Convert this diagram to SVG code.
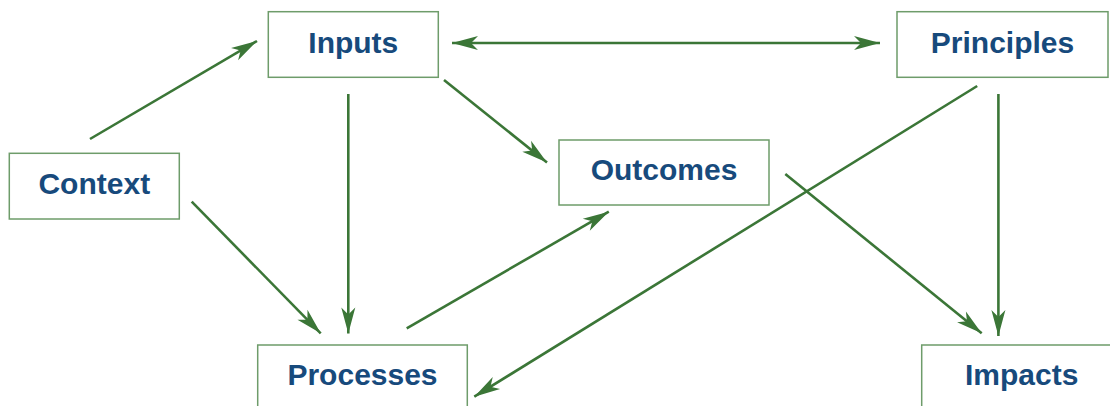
<svg xmlns="http://www.w3.org/2000/svg" width="1110" height="406" viewBox="0 0 1110 406">
  <style>
    .box { fill: #ffffff; stroke: #6e9c6a; stroke-width: 1.5; }
    .lbl { font-family: "Liberation Sans", Arial, Helvetica, sans-serif; font-weight: bold; font-size: 30px; fill: #174a7c; text-anchor: middle; }
    .conn { stroke: #3b7637; stroke-width: 2.6; fill: none; marker-end: url(#ah); }
  </style>
  <defs>
    <marker id="ah" markerUnits="userSpaceOnUse" viewBox="-28 -9 30 18" refX="0" refY="0" markerWidth="30" markerHeight="18" orient="auto-start-reverse">
      <path d="M0,0 L-26,-7 L-19,0 L-26,7 Z" fill="#3b7637"/>
    </marker>
  </defs>
  <rect width="1110" height="406" fill="#ffffff"/>

  <g id="connectors">
    <line class="conn" x1="90" y1="139" x2="257" y2="41"/>
    <line class="conn" x1="452" y1="43" x2="880" y2="43" style="marker-start: url(#ah)"/>
    <line class="conn" x1="348.3" y1="94" x2="348.3" y2="333.5"/>
    <line class="conn" x1="444" y1="80" x2="547" y2="162.5"/>
    <line class="conn" x1="191.7" y1="201.7" x2="320.7" y2="333.3"/>
    <line class="conn" x1="406.7" y1="328.3" x2="608.8" y2="211.7"/>
    <line class="conn" x1="977.2" y1="86" x2="474.3" y2="396.7"/>
    <line class="conn" x1="785.3" y1="174" x2="981.7" y2="333.3"/>
    <line class="conn" x1="998.4" y1="94" x2="998.4" y2="336"/>
  </g>

  <g id="node-inputs">
    <rect class="box" x="268.3" y="11.7" width="170" height="65.6"/>
    <text class="lbl" x="353.3" y="53.3">Inputs</text>
  </g>
  <g id="node-context">
    <rect class="box" x="9.3" y="153.3" width="170" height="65.7"/>
    <text class="lbl" x="94.3" y="193.5">Context</text>
  </g>
  <g id="node-principles">
    <rect class="box" x="897" y="11.7" width="211" height="65.6"/>
    <text class="lbl" x="1002.5" y="52.5">Principles</text>
  </g>
  <g id="node-outcomes">
    <rect class="box" x="559" y="140" width="210" height="65"/>
    <text class="lbl" x="664" y="180.3">Outcomes</text>
  </g>
  <g id="node-processes">
    <rect class="box" x="257.7" y="345" width="209.6" height="80"/>
    <text class="lbl" x="362.5" y="385">Processes</text>
  </g>
  <g id="node-impacts">
    <rect class="box" x="921.7" y="345" width="200" height="80"/>
    <text class="lbl" x="1021.7" y="385">Impacts</text>
  </g>
</svg>
